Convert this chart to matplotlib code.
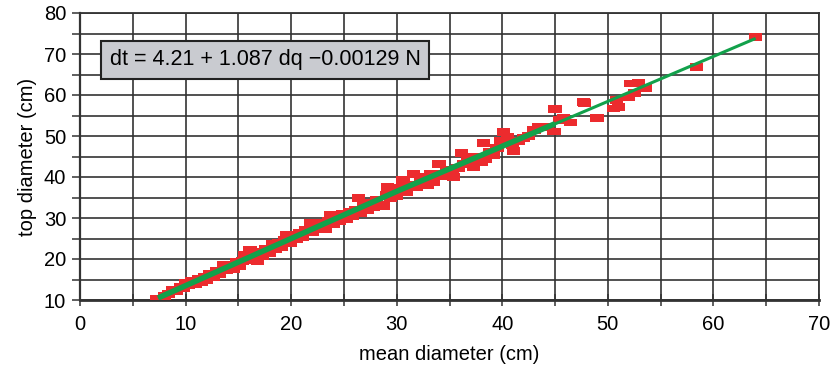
import matplotlib
matplotlib.use("Agg")
import matplotlib.pyplot as plt
from matplotlib.ticker import MultipleLocator

plt.rcParams['font.family'] = ['Liberation Sans', 'DejaVu Sans']

# observed (mean diameter, top diameter) pairs, cm
mean_d = [7.3, 7.6, 8.0, 8.4, 8.8, 9.1, 9.5, 9.8, 10.0, 10.3, 10.6, 10.9, 11.2, 11.5,
          11.8, 12.0, 12.3, 12.6, 12.9, 13.2, 13.6, 13.9, 14.2, 14.5, 14.8, 15.1, 15.4,
          15.6, 15.9, 16.1, 16.4, 16.8, 17.0, 17.3, 17.6, 17.9, 18.2, 18.5, 18.8, 19.1,
          19.4, 19.6, 19.9, 20.2, 20.5, 20.8, 21.1, 21.4, 21.8, 22.0, 22.3, 22.6, 22.9,
          23.2, 23.5, 23.7, 24.0, 24.3, 24.6, 24.9, 25.2, 25.5, 25.8, 26.1, 26.4, 26.6,
          26.9, 27.2, 27.5, 27.8, 28.1, 28.4, 28.7, 29.0, 29.1, 29.4, 29.7, 30.0, 30.3,
          30.6, 30.9, 31.2, 31.6, 31.9, 32.3, 32.6, 32.9, 33.2, 33.5, 33.7, 34.0, 34.3,
          34.7, 35.0, 35.3, 35.4, 35.8, 36.1, 36.3, 36.7, 37.0, 37.3, 37.7, 38.0, 38.2,
          38.4, 38.8, 39.2, 39.5, 39.8, 40.1, 40.5, 41.0, 41.1, 41.5, 42.0, 42.5, 43.0,
          43.4, 44.3, 44.9, 45.0, 45.4, 45.8, 46.5, 47.7, 47.8, 48.9, 49.0, 50.5, 50.8,
          51.0, 51.9, 52.2, 52.5, 52.9, 53.6, 58.4, 64.0]
top_d = [10.2, 10.3, 10.9, 11.4, 12.4, 12.2, 13.3, 12.8, 14.1, 13.6, 14.6, 13.8, 15.2, 14.4,
         15.6, 14.9, 16.4, 15.7, 17.0, 16.3, 18.5, 17.2, 18.4, 17.6, 19.2, 18.3, 19.5,
         21.0, 19.7, 22.2, 20.3, 19.6, 21.6, 20.7, 22.4, 21.4, 23.6, 22.5, 24.0, 22.9,
         24.6, 25.8, 24.0, 25.6, 24.8, 26.4, 25.3, 27.0, 28.7, 26.5, 28.0, 27.2, 28.8,
         27.4, 29.2, 30.7, 28.6, 30.1, 29.3, 31.0, 29.8, 31.5, 30.4, 32.0, 34.8, 31.2,
         33.1, 32.0, 33.7, 32.6, 34.5, 33.3, 32.9, 35.6, 37.6, 34.8, 36.6, 35.4, 37.3,
         39.2, 36.4, 38.1, 40.7, 37.6, 39.9, 38.3, 38.0, 40.8, 38.8, 40.7, 43.1, 40.2,
         41.8, 40.9, 40.9, 39.9, 42.1, 45.8, 43.1, 44.8, 44.0, 42.4, 44.8, 43.7, 48.2,
         44.5, 46.0, 45.3, 47.0, 48.9, 50.9, 49.7, 47.7, 46.3, 48.7, 49.6, 50.0, 51.4,
         52.1, 52.3, 51.1, 56.5, 54.0, 54.5, 53.3, 58.2, 58.0, 54.5, 54.5, 56.7, 58.7,
         57.0, 59.4, 62.8, 60.4, 63.0, 61.6, 66.9, 74.2]

# regression line
fit_x = [7.4, 30.0, 64.0]
fit_y = [10.5, 36.5, 73.8]
fit_x_dense = [7.4, 30.0, 45.0]
fit_y_dense = [10.5, 36.5, 53.0]

equation = "dt = 4.21 + 1.087 dq \u22120.00129 N"

fig = plt.figure(figsize=(8.35, 3.73), dpi=100)
ax = fig.add_axes([80/835, 1 - 300/373, (819-80)/835, (300-13)/373])

ax.set_xlim(0, 70)
ax.set_ylim(10, 80)
ax.xaxis.set_major_locator(MultipleLocator(10))
ax.xaxis.set_minor_locator(MultipleLocator(5))
ax.yaxis.set_major_locator(MultipleLocator(10))
ax.yaxis.set_minor_locator(MultipleLocator(5))
ax.grid(True, which='both', color='#333333', lw=1.2, zorder=0)
ax.set_axisbelow(True)

rect = [(-1, -0.6), (1, -0.6), (1, 0.6), (-1, 0.6), (-1, -0.6)]
ax.scatter(mean_d, top_d, marker=rect, s=90, color='#EC2B2E', edgecolors='none',
           zorder=3)
ax.plot(fit_x, fit_y, color='#12A14B', lw=2.2, zorder=4, solid_capstyle='butt')
ax.plot(fit_x_dense, fit_y_dense, color='#12A14B', lw=4.0, zorder=4,
        solid_capstyle='butt')

for s in ax.spines.values():
    s.set_color('#333333')
    s.set_linewidth(1.3)
ax.spines['bottom'].set_linewidth(2.0)
ax.spines['left'].set_linewidth(1.6)

ax.tick_params(axis='x', which='both', direction='inout', length=8, width=1.1,
               color='#333333', labelsize=14.5, pad=7)
ax.tick_params(axis='y', which='both', direction='out', length=6, width=1.1,
               color='#333333', labelsize=14.5, pad=4)

ax.set_xlabel('mean diameter (cm)', fontsize=14.5, labelpad=8)
ax.set_ylabel('top diameter (cm)', fontsize=14.5, labelpad=5)

ax.text(2.8, 68.6, equation, fontsize=15.5, va='center', ha='left', zorder=6,
        bbox=dict(boxstyle='square,pad=0.4', facecolor='#C9CBD0',
                  edgecolor='#222222', linewidth=1.5))

fig.savefig('out.png', dpi=100)
